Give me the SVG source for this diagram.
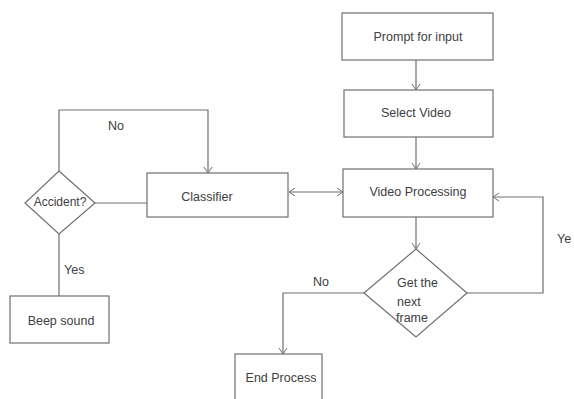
<svg xmlns="http://www.w3.org/2000/svg" width="574" height="399" viewBox="0 0 574 399">
<style>
.box{fill:#ffffff;stroke:#707070;stroke-width:1.2}
.ln{fill:none;stroke:#707070;stroke-width:1.2}
.t{font-family:"Liberation Sans",Arial,sans-serif;font-size:12.5px;fill:#404040}
.c{text-anchor:middle}
</style>
<defs>
<marker id="ah" markerUnits="userSpaceOnUse" markerWidth="10" markerHeight="10" refX="8" refY="5" orient="auto-start-reverse">
<path d="M2,1 L8,5 L2,9" fill="none" stroke="#707070" stroke-width="1"/>
</marker>
</defs>
<rect width="574" height="399" fill="#ffffff"/>
<g id="connectors">
<line class="ln" x1="416" y1="60" x2="416" y2="90" marker-end="url(#ah)"/>
<line class="ln" x1="416" y1="137" x2="416" y2="169" marker-end="url(#ah)"/>
<line class="ln" x1="289" y1="192" x2="343" y2="192" marker-start="url(#ah)" marker-end="url(#ah)"/>
<line class="ln" x1="416" y1="217" x2="416" y2="249" marker-end="url(#ah)"/>
<polyline class="ln" points="467,293 543,293 543,197 493,197" marker-end="url(#ah)"/>
<polyline class="ln" points="364,293 283,293 283,354" marker-end="url(#ah)"/>
<line class="ln" x1="95" y1="203" x2="147" y2="203"/>
<polyline class="ln" points="59,171 59,110 208,110 208,173" marker-end="url(#ah)"/>
<line class="ln" x1="59" y1="234" x2="59" y2="296"/>
<text class="t c" x="116" y="130">No</text>
<text class="t" x="64" y="274">Yes</text>
<text class="t" x="313" y="286">No</text>
<text class="t" x="557" y="243">Ye</text>
</g>
<g id="prompt">
<rect class="box" x="342" y="13" width="151" height="47"/>
<text class="t c" x="418" y="41">Prompt for input</text>
</g>
<g id="select">
<rect class="box" x="344" y="90" width="149" height="47"/>
<text class="t c" x="416" y="117">Select Video</text>
</g>
<g id="videoproc">
<rect class="box" x="343" y="169" width="150" height="48"/>
<text class="t c" x="418" y="196">Video Processing</text>
</g>
<g id="classifier">
<rect class="box" x="147" y="173" width="141" height="44"/>
<text class="t c" x="207" y="201">Classifier</text>
</g>
<g id="accident">
<polygon class="box" points="59,171 95,203 59,234 25,203"/>
<text class="t c" x="60" y="206" style="font-size:12px">Accident?</text>
</g>
<g id="beep">
<rect class="box" x="10" y="296" width="99" height="47"/>
<text class="t c" x="61" y="325">Beep sound</text>
</g>
<g id="getnext">
<polygon class="box" points="416,249 467,293 416,337 364,293"/>
<text class="t" x="397" y="287">Get the</text>
<text class="t" x="397" y="306">next</text>
<text class="t" x="396" y="322">frame</text>
</g>
<g id="endprocess">
<rect class="box" x="235" y="354" width="87" height="52"/>
<text class="t c" x="281" y="382">End Process</text>
</g>
</svg>
